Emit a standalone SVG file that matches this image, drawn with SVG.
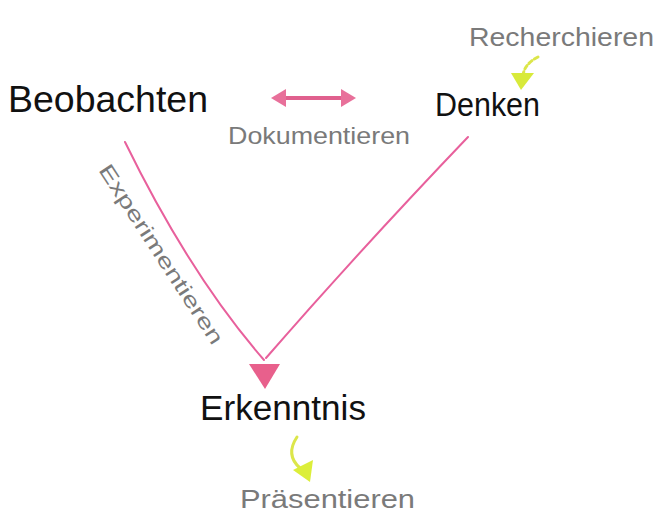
<svg xmlns="http://www.w3.org/2000/svg" width="657" height="516" viewBox="0 0 657 516">
<style>
.main{font-family:"Liberation Sans","DejaVu Sans",sans-serif;fill:#111;}
.act{font-family:"Liberation Sans","DejaVu Sans",sans-serif;fill:#7a7a7a;}
.pink{stroke:#e8609c;stroke-width:2;fill:none;stroke-linecap:round;}
.yel{stroke:#dce64a;stroke-width:3;fill:none;stroke-linecap:round;}
</style>
<rect width="657" height="516" fill="#fff"/>
<g id="connectors">
  <path class="pink" d="M125,142 Q190,275 264,360"/>
  <path class="pink" d="M468,137 Q360,250 266,358"/>
  <polygon points="249,364 280,364 265,389" fill="#e8608c"/>
  <line x1="282" y1="98" x2="345" y2="98" stroke="#e0608e" stroke-width="4" stroke-linecap="round"/>
  <polygon points="271,98 286,89 286,107" fill="#e8709a"/>
  <polygon points="356,98 341,89 341,107" fill="#e8709a"/>
  <path class="yel" d="M538,57 Q524,64 523,76" stroke-dasharray="4 3"/>
  <polygon points="511,73 534,73 521,90" fill="#d8ea3a"/>
  <path class="yel" d="M297,437 Q285,455 300,468"/>
  <polygon points="293,470 313,460 310,482" fill="#dcee3a"/>
</g>
<g id="beobachten"><text class="main" x="8" y="112" font-size="36" textLength="200" lengthAdjust="spacingAndGlyphs">Beobachten</text></g>
<g id="denken"><text class="main" x="435" y="116" font-size="33" textLength="105" lengthAdjust="spacingAndGlyphs">Denken</text></g>
<g id="erkenntnis"><text class="main" x="200" y="420" font-size="35" textLength="166" lengthAdjust="spacingAndGlyphs">Erkenntnis</text></g>
<g id="dokumentieren"><text class="act" x="228" y="144" font-size="24" textLength="182" lengthAdjust="spacingAndGlyphs">Dokumentieren</text></g>
<g id="experimentieren"><text class="act" font-size="21" transform="translate(98,170) rotate(57)" textLength="210" lengthAdjust="spacingAndGlyphs">Experimentieren</text></g>
<g id="recherchieren"><text class="act" x="469" y="46" font-size="26" textLength="185" lengthAdjust="spacingAndGlyphs">Recherchieren</text></g>
<g id="praesentieren"><text class="act" x="240" y="508" font-size="26" textLength="175" lengthAdjust="spacingAndGlyphs">Präsentieren</text></g>
</svg>
